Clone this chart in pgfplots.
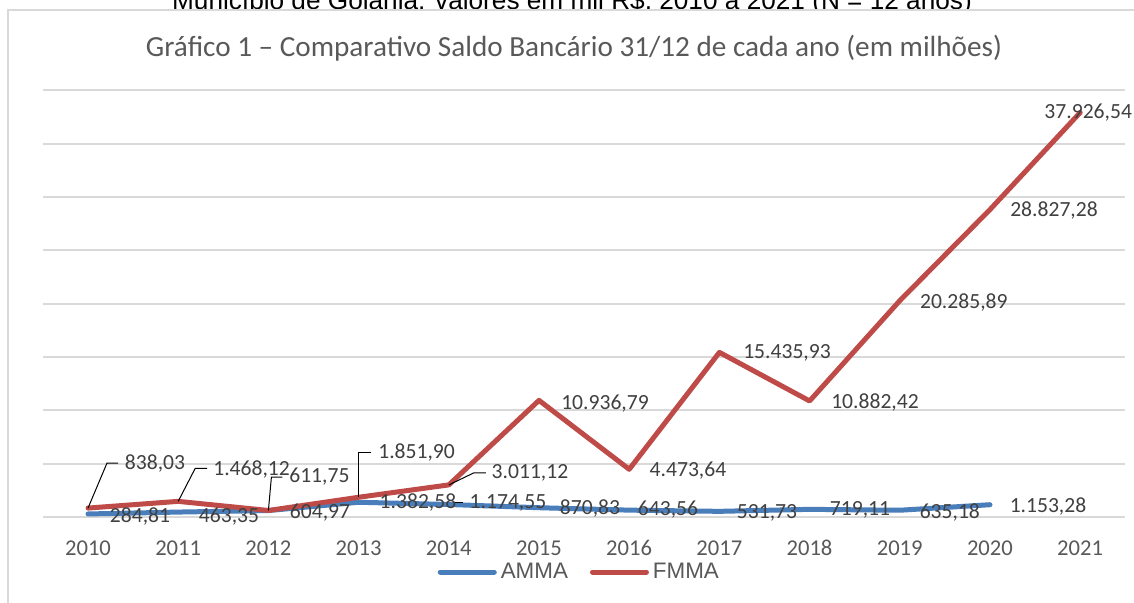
\documentclass[border=0pt]{standalone}
\usepackage{pgfplots}
\pgfplotsset{compat=1.18}
\usepackage{fontspec}
\setmainfont{Carlito}
\newfontfamily\arialf{Liberation Sans}
\definecolor{amma}{HTML}{4A7EBB}
\definecolor{fmma}{HTML}{BE4B48}
\definecolor{txt}{HTML}{404040}
\definecolor{ttl}{HTML}{595959}
\definecolor{grd}{HTML}{D9D9D9}
\begin{document}
\begin{tikzpicture}
\useasboundingbox (0pt,0pt) rectangle (567pt,301pt);
% partially cut text above the chart
\node[font=\arialf\fontsize{13.1}{15}\selectfont, text=black, anchor=base] at (286pt,296.5pt) {Município de Goiânia: valores em mil R\$, 2010 a 2021 (N = 12 anos)};
\draw[fill=white, draw=grd, line width=1pt] (4pt,296pt) rectangle (575pt,-10pt);
\node[font=\fontsize{14.6}{17}\selectfont, text=ttl] at (287pt,277pt) {Gráfico 1 – Comparativo Saldo Bancário 31/12 de cada ano (em milhões)};
\begin{axis}[
  at={(21.45pt,42.5pt)}, anchor=south west,
  scale only axis, width=541.2pt, height=213.3pt,
  xmin=2009.5, xmax=2021.5, ymin=0, ymax=40000,
  clip=false,
  scaled y ticks=false,
  axis line style={draw=none},
  tick style={draw=none},
  xtick={2010,...,2021},
  ytick={0,5000,...,40000},
  yticklabels={},
  ymajorgrids,
  major grid style={draw=grd, line width=1pt},
  /pgf/number format/1000 sep={},
  /pgf/number format/assume math mode=true,
  xticklabel style={font=\fontsize{11.3}{13}\selectfont, text=ttl, anchor=center, yshift=-15.5pt},
  every axis plot/.append style={line width=2.5pt, line cap=round, line join=round},
  legend columns=2,
  legend style={draw=none, fill=none, at={(0.4965,0)}, anchor=center, yshift=-27.5pt,
    font=\arialf\fontsize{11.2}{13}\selectfont, text=ttl,
    /tikz/every even column/.append style={column sep=9pt}},
  legend image code/.code={\draw[#1] (0pt,0pt) -- (27pt,0pt);},
]
\addplot[amma, mark=none] coordinates {
(2010,284.81) (2011,463.35) (2012,604.97) (2013,1382.58) (2014,1174.55)
(2015,870.83) (2016,643.56) (2017,531.73) (2018,719.11) (2019,635.18) (2020,1153.28)};
\addlegendentry{AMMA}
\addplot[fmma, mark=none] coordinates {
(2010,838.03) (2011,1468.12) (2012,611.75) (2013,1851.90) (2014,3011.12)
(2015,10936.79) (2016,4473.64) (2017,15435.93) (2018,10882.42) (2019,20285.89)
(2020,28827.28) (2021,37926.54)};
\addlegendentry{FMMA}
% leader lines
\draw[black, line width=0.5pt] (axis cs:2010,838.03) -- ++(9.5pt,22.5pt) -- ++(5.5pt,0pt);
\draw[black, line width=0.5pt] (axis cs:2011,1468.12) -- ++(8.5pt,16.5pt) -- ++(6pt,0pt);
\draw[black, line width=0.5pt] (axis cs:2012,611.75) -- ++(1.5pt,16.7pt) -- ++(5.5pt,0pt);
\draw[black, line width=0.5pt] (axis cs:2013,1851.90) -- ++(0pt,22.5pt) -- ++(6pt,0pt);
\draw[black, line width=0.5pt] (axis cs:2014,3011.12) -- ++(12.5pt,6pt) -- ++(6pt,0pt);
\draw[black, line width=0.5pt] ([shift={(3pt,1.2pt)}]axis cs:2014,1174.55) -- ++(4pt,0pt);
% FMMA labels
\begin{scope}[every node/.style={font=\fontsize{10.8}{12}\selectfont, text=txt, inner sep=0pt}]
\node[xshift=33.5pt, yshift=22.5pt] at (axis cs:2010,838.03) {838,03};
\node[xshift=36.7pt, yshift=15.7pt] at (axis cs:2011,1468.12) {1.468,12};
\node[xshift=25.5pt, yshift=16.7pt] at (axis cs:2012,611.75) {611,75};
\node[xshift=29pt, yshift=22.6pt] at (axis cs:2013,1851.90) {1.851,90};
\node[xshift=40.6pt, yshift=6pt] at (axis cs:2014,3011.12) {3.011,12};
\node[xshift=33pt, yshift=-1.5pt] at (axis cs:2015,10936.79) {10.936,79};
\node[xshift=29.4pt, yshift=-0.8pt] at (axis cs:2016,4473.64) {4.473,64};
\node[xshift=33.8pt, yshift=0pt] at (axis cs:2017,15435.93) {15.435,93};
\node[xshift=32.7pt, yshift=-1pt] at (axis cs:2018,10882.42) {10.882,42};
\node[xshift=32pt, yshift=-1pt] at (axis cs:2019,20285.89) {20.285,89};
\node[xshift=32pt, yshift=-0.7pt] at (axis cs:2020,28827.28) {28.827,28};
\node[xshift=4pt, yshift=0pt] at (axis cs:2021,37926.54) {37.926,54};
% AMMA labels
\node[xshift=26pt, yshift=-1.5pt] at (axis cs:2010,284.81) {284,81};
\node[xshift=25.4pt, yshift=-2.5pt] at (axis cs:2011,463.35) {463,35};
\node[xshift=25.8pt, yshift=-1.2pt] at (axis cs:2012,604.97) {604,97};
\node[xshift=29.7pt, yshift=0pt] at (axis cs:2013,1382.58) {1.382,58};
\node[xshift=29.6pt, yshift=0.7pt] at (axis cs:2014,1174.55) {1.174,55};
\node[xshift=25.5pt, yshift=-0.6pt] at (axis cs:2015,870.83) {870,83};
\node[xshift=19.4pt, yshift=0.5pt] at (axis cs:2016,643.56) {643,56};
\node[xshift=23.8pt, yshift=-0.9pt] at (axis cs:2017,531.73) {531,73};
\node[xshift=25.2pt, yshift=-0.4pt] at (axis cs:2018,719.11) {719,11};
\node[xshift=25pt, yshift=-0.9pt] at (axis cs:2019,635.18) {635,18};
\node[xshift=29pt, yshift=-1.1pt] at (axis cs:2020,1153.28) {1.153,28};
\end{scope}
\end{axis}
\end{tikzpicture}
\end{document}
